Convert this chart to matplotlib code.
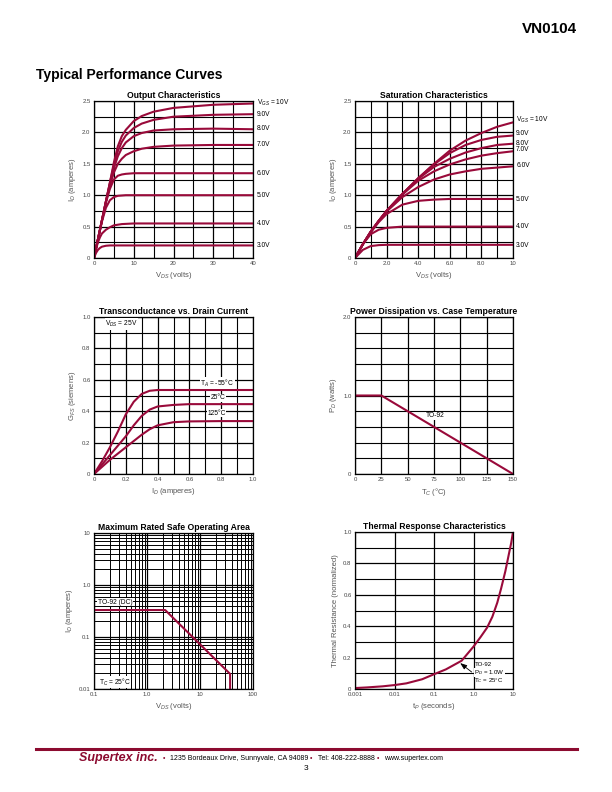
import matplotlib
matplotlib.use('Agg')
import matplotlib.pyplot as plt
from matplotlib.lines import Line2D
from matplotlib.ticker import FixedLocator, MultipleLocator, NullFormatter, NullLocator, LogLocator

plt.rcParams['font.family'] = ['Liberation Sans', 'DejaVu Sans']
plt.rcParams['mathtext.fontset'] = 'custom'
plt.rcParams['mathtext.rm'] = 'Liberation Sans'
plt.rcParams['mathtext.it'] = 'Liberation Sans:italic'
plt.rcParams['mathtext.bf'] = 'Liberation Sans:bold'

RED = '#990a3a'

# ---------------- data ----------------
# Output characteristics (ID vs VDS, 0..40V)
out_labels = ['V$_{GS}$ = 10V', '9.0V', '8.0V', '7.0V', '6.0V', '5.0V', '4.0V', '3.0V']
out_label_y = [2.47, 2.29, 2.06, 1.80, 1.35, 1.00, 0.55, 0.20]
out_x_hi = [0, 1, 2, 3, 4, 5, 6, 7, 8, 10, 12, 15, 20, 30, 40]
out_10v = [0, 0.30, 0.60, 0.90, 1.20, 1.52, 1.78, 1.94, 2.04, 2.18, 2.26, 2.33, 2.39, 2.44, 2.46]
out_9v = [0, 0.30, 0.60, 0.90, 1.20, 1.48, 1.70, 1.85, 1.95, 2.07, 2.14, 2.20, 2.25, 2.28, 2.29]
out_8v = [0, 0.30, 0.60, 0.90, 1.18, 1.43, 1.62, 1.75, 1.84, 1.94, 1.99, 2.03, 2.05, 2.06, 2.05]
out_7v = [0, 0.30, 0.60, 0.90, 1.15, 1.36, 1.50, 1.58, 1.64, 1.70, 1.74, 1.77, 1.79, 1.80, 1.80]
out_6v_x = [0, 1, 2, 3, 4, 5, 6, 7, 8, 10, 15, 20, 30, 40]
out_6v = [0, 0.30, 0.60, 0.88, 1.10, 1.25, 1.31, 1.33, 1.34, 1.35, 1.35, 1.35, 1.35, 1.35]
out_5v_x = [0, 1, 2, 3, 4, 5, 6, 8, 10, 20, 40]
out_5v = [0, 0.30, 0.58, 0.80, 0.92, 0.97, 0.99, 1.0, 1.0, 1.0, 1.0]
out_4v_x = [0, 0.5, 1, 1.5, 2, 3, 4, 5, 7, 10, 20, 40]
out_4v = [0, 0.14, 0.25, 0.33, 0.39, 0.45, 0.49, 0.52, 0.54, 0.55, 0.55, 0.55]
out_3v_x = [0, 0.5, 1, 1.5, 2, 3, 4, 6, 10, 40]
out_3v = [0, 0.08, 0.13, 0.16, 0.18, 0.195, 0.2, 0.2, 0.2, 0.2]

# Saturation characteristics (0..10V)
sat_x = [0, 0.5, 1, 1.5, 2, 3, 4, 5, 6, 7, 8, 9, 10]
sat_10v = [0, 0.22, 0.42, 0.59, 0.75, 1.02, 1.27, 1.50, 1.71, 1.87, 1.99, 2.09, 2.16]
sat_9v = [0, 0.22, 0.42, 0.59, 0.75, 1.02, 1.27, 1.49, 1.67, 1.80, 1.88, 1.93, 1.95]
sat_8v = [0, 0.22, 0.42, 0.59, 0.75, 1.02, 1.26, 1.45, 1.58, 1.68, 1.75, 1.80, 1.82]
sat_7v = [0, 0.22, 0.42, 0.59, 0.75, 1.01, 1.23, 1.38, 1.49, 1.57, 1.63, 1.67, 1.70]
sat_6v = [0, 0.22, 0.42, 0.59, 0.74, 0.97, 1.13, 1.25, 1.33, 1.38, 1.42, 1.44, 1.46]
sat_5v = [0, 0.22, 0.41, 0.57, 0.70, 0.85, 0.91, 0.93, 0.94, 0.94, 0.94, 0.94, 0.94]
sat_4v = [0, 0.22, 0.38, 0.45, 0.48, 0.50, 0.50, 0.50, 0.50, 0.50, 0.50, 0.50, 0.50]
sat_3v = [0, 0.13, 0.19, 0.205, 0.21, 0.21, 0.21, 0.21, 0.21, 0.21, 0.21, 0.21, 0.21]
sat_labels = ['V$_{GS}$ = 10V', '9.0V', '8.0V', '7.0V', '6.0V', '5.0V', '4.0V', '3.0V']
sat_label_y = [2.2, 1.98, 1.83, 1.72, 1.47, 0.93, 0.50, 0.20]

# Transconductance vs drain current
gm_x = [0, 0.05, 0.1, 0.15, 0.2, 0.25, 0.3, 0.35, 0.4, 0.5, 0.6, 0.8, 1.0]
gm_m55 = [0, 0.08, 0.17, 0.27, 0.38, 0.46, 0.51, 0.53, 0.535, 0.535, 0.535, 0.535, 0.535]
gm_25 = [0, 0.06, 0.12, 0.18, 0.24, 0.31, 0.37, 0.41, 0.43, 0.44, 0.445, 0.445, 0.445]
gm_125 = [0, 0.045, 0.09, 0.13, 0.17, 0.21, 0.25, 0.285, 0.31, 0.33, 0.335, 0.337, 0.337]

# Power dissipation vs case temperature
pd_t = [0, 25, 150]
pd_w = [1.0, 1.0, 0.0]

# Safe operating area
soa_v = [0.1, 2.2, 37, 37]
soa_i = [0.33, 0.33, 0.0195, 0.01]

# Thermal response
th_t = [0.001, 0.002, 0.005, 0.01, 0.02, 0.05, 0.1, 0.2, 0.5, 1.0, 1.5, 2.2, 3.0, 4.0, 5.0, 6.4, 7.8, 9.0, 10.0]
th_r = [0.006, 0.01, 0.017, 0.025, 0.036, 0.062, 0.094, 0.125, 0.18, 0.27, 0.33, 0.39, 0.46, 0.55, 0.64, 0.75, 0.855, 0.93, 1.0]

fig = plt.figure(figsize=(6.12, 7.92), dpi=100)


def px_axes(x0, y0, x1, y1):
    return fig.add_axes([x0 / 612, 1 - y1 / 792, (x1 - x0) / 612, (y1 - y0) / 792])


def style(ax, title, xlabel, ylabel):
    ax.set_title(title, fontsize=6.2, fontweight='bold', pad=2.5)
    ax.grid(which='major', color='black', lw=0.9)
    ax.grid(which='minor', color='black', lw=0.8)
    ax.tick_params(which='both', length=0, labelsize=4.3, pad=2.5, colors='#444444')
    for s in ax.spines.values():
        s.set_linewidth(0.9)
    ax.set_axisbelow(True)
    ax.set_xlabel(xlabel, fontsize=5.5, color='#555555', labelpad=2.5)
    ax.set_ylabel(ylabel, fontsize=5.5, color='#555555', labelpad=3)


def lin_ticks(ax, xt, xl, xm, yt, yl, ym):
    ax.xaxis.set_major_locator(FixedLocator(xt))
    ax.set_xticklabels(xl)
    ax.xaxis.set_minor_locator(MultipleLocator(xm))
    ax.yaxis.set_major_locator(FixedLocator(yt))
    ax.set_yticklabels(yl)
    ax.yaxis.set_minor_locator(MultipleLocator(ym))


lw = 1.5
WB = dict(fc='white', ec='none', pad=0.4)
WB2 = dict(fc='white', ec='none', pad=0.15)

# ---- Output characteristics ----
ax1 = px_axes(94, 101, 253, 258)
for xs, ys in [(out_x_hi, out_10v), (out_x_hi, out_9v), (out_x_hi, out_8v), (out_x_hi, out_7v),
               (out_6v_x, out_6v), (out_5v_x, out_5v), (out_4v_x, out_4v), (out_3v_x, out_3v)]:
    ax1.plot(xs, ys, color=RED, lw=lw, solid_capstyle='round')
ax1.set_xlim(0, 40)
ax1.set_ylim(0, 2.5)
lin_ticks(ax1, [0, 10, 20, 30, 40], ['0', '10', '20', '30', '40'], 5,
          [0, 0.5, 1.0, 1.5, 2.0, 2.5], ['0', '0.5', '1.0', '1.5', '2.0', '2.5'], 0.25)
style(ax1, 'Output Characteristics', 'V$_{DS}$ (volts)', 'I$_D$ (amperes)')
for lab, yv in zip(out_labels, out_label_y):
    ax1.text(41, yv, lab, fontsize=4.8, va='center', ha='left', clip_on=False)

# ---- Saturation characteristics ----
ax2 = px_axes(355, 101, 513, 258)
for ys in [sat_10v, sat_9v, sat_8v, sat_7v, sat_6v, sat_5v, sat_4v, sat_3v]:
    ax2.plot(sat_x, ys, color=RED, lw=lw)
ax2.set_xlim(0, 10)
ax2.set_ylim(0, 2.5)
lin_ticks(ax2, [0, 2, 4, 6, 8, 10], ['0', '2.0', '4.0', '6.0', '8.0', '10'], 1,
          [0, 0.5, 1.0, 1.5, 2.0, 2.5], ['0', '0.5', '1.0', '1.5', '2.0', '2.5'], 0.25)
style(ax2, 'Saturation Characteristics', 'V$_{DS}$ (volts)', 'I$_D$ (amperes)')
for lab, yv in zip(sat_labels, sat_label_y):
    ax2.text(10.2, yv, lab, fontsize=4.8, va='center', ha='left', clip_on=False)

# ---- Transconductance ----
ax3 = px_axes(94, 317, 253, 474)
for ys in [gm_m55, gm_25, gm_125]:
    ax3.plot(gm_x, ys, color=RED, lw=lw)
ax3.set_xlim(0, 1)
ax3.set_ylim(0, 1)
lin_ticks(ax3, [0, 0.2, 0.4, 0.6, 0.8, 1.0], ['0', '0.2', '0.4', '0.6', '0.8', '1.0'], 0.1,
          [0, 0.2, 0.4, 0.6, 0.8, 1.0], ['0', '0.2', '0.4', '0.6', '0.8', '1.0'], 0.1)
style(ax3, 'Transconductance vs. Drain Current', 'I$_D$ (amperes)', 'G$_{FS}$ (siemens)')
ax3.text(0.07, 0.955, 'V$_{DS}$ = 25V', fontsize=4.8, va='center', ha='left', bbox=WB)
ax3.text(0.775, 0.578, 'T$_A$ = -55°C', fontsize=4.8, va='center', ha='center', bbox=WB)
ax3.text(0.78, 0.487, '25°C', fontsize=4.8, va='center', ha='center', bbox=WB)
ax3.text(0.77, 0.386, '125°C', fontsize=4.8, va='center', ha='center', bbox=WB)

# ---- Power dissipation ----
ax4 = px_axes(355, 317, 513, 474)
ax4.plot(pd_t, pd_w, color=RED, lw=lw)
ax4.set_xlim(0, 150)
ax4.set_ylim(0, 2.0)
lin_ticks(ax4, [0, 25, 50, 75, 100, 125, 150], ['0', '25', '50', '75', '100', '125', '150'], 25,
          [0, 1.0, 2.0], ['0', '1.0', '2.0'], 0.2)
style(ax4, 'Power Dissipation vs. Case Temperature', 'T$_C$ (°C)', 'P$_D$ (watts)')
ax4.text(76, 0.74, 'TO-92', fontsize=4.8, va='center', ha='center', bbox=WB)

# ---- SOA ----
ax5 = px_axes(94, 533, 253, 689)
ax5.plot(soa_v, soa_i, color=RED, lw=lw)
ax5.set_xscale('log')
ax5.set_yscale('log')
ax5.set_xlim(0.1, 100)
ax5.set_ylim(0.01, 10)
ax5.xaxis.set_major_locator(FixedLocator([0.1, 1, 10, 100]))
ax5.set_xticklabels(['0.1', '1.0', '10', '100'])
ax5.xaxis.set_minor_locator(LogLocator(base=10, subs=[2, 3, 4, 5, 6, 7, 8, 9], numticks=20))
ax5.xaxis.set_minor_formatter(NullFormatter())
ax5.yaxis.set_major_locator(FixedLocator([0.01, 0.1, 1, 10]))
ax5.set_yticklabels(['0.01', '0.1', '1.0', '10'])
ax5.yaxis.set_minor_locator(LogLocator(base=10, subs=[2, 3, 4, 5, 6, 7, 8, 9], numticks=20))
ax5.yaxis.set_minor_formatter(NullFormatter())
style(ax5, 'Maximum Rated Safe Operating Area', 'V$_{DS}$ (volts)', 'I$_D$ (amperes)')
ax5.grid(which='minor', color='black', lw=0.7)
ax5.text(0.118, 0.47, 'TO-92 (DC)', fontsize=4.8, va='center', ha='left', bbox=WB)
ax5.text(0.125, 0.0135, 'T$_C$ = 25°C', fontsize=4.8, va='center', ha='left', bbox=WB)

# ---- Thermal response ----
ax6 = px_axes(355, 532, 513, 689)
ax6.plot(th_t, th_r, color=RED, lw=lw)
ax6.set_xscale('log')
ax6.set_xlim(0.001, 10)
ax6.set_ylim(0, 1.0)
ax6.xaxis.set_major_locator(FixedLocator([0.001, 0.01, 0.1, 1, 10]))
ax6.set_xticklabels(['0.001', '0.01', '0.1', '1.0', '10'])
ax6.xaxis.set_minor_locator(NullLocator())
ax6.yaxis.set_major_locator(FixedLocator([0, 0.2, 0.4, 0.6, 0.8, 1.0]))
ax6.set_yticklabels(['0', '0.2', '0.4', '0.6', '0.8', '1.0'])
ax6.yaxis.set_minor_locator(MultipleLocator(0.1))
style(ax6, 'Thermal Response Characteristics', 't$_P$ (seconds)', 'Thermal Resistance (normalized)')
ax6.annotate('', xy=(0.46, 0.165), xytext=(0.9, 0.108),
             arrowprops=dict(arrowstyle='-|>,head_length=0.4,head_width=0.15', color='black',
                             lw=0.6, shrinkA=0, shrinkB=0))
ax6.text(1.05, 0.156, 'TO-92', fontsize=4.4, va='center', ha='left')
ax6.text(1.05, 0.106, 'P$_D$ = 1.0W', fontsize=4.4, va='center', ha='left', bbox=WB2)
ax6.text(1.05, 0.056, 'T$_C$ = 25°C', fontsize=4.4, va='center', ha='left')

# ---- page text ----
def ftxt(x, y, s, **kw):
    fig.text(x / 612, 1 - y / 792, s, **kw)

ftxt(577, 29, 'VN0104', fontsize=11, fontweight='bold', ha='right', va='center')
ftxt(36, 75, 'Typical Performance Curves', fontsize=10, fontweight='bold', ha='left', va='center')
fig.add_artist(Line2D([36 / 612, 577 / 612], [1 - 749 / 792, 1 - 749 / 792],
                      transform=fig.transFigure, color='#8c0b30', lw=2.2))
ftxt(79, 758, 'Supertex inc.', fontsize=9, fontweight='bold', style='italic', color='#8c0b30',
     ha='left', va='center')
ftxt(163, 758.5, '•', fontsize=5, color='#8c0b30', ha='left', va='center')
ftxt(170, 758, '1235 Bordeaux Drive, Sunnyvale, CA 94089', fontsize=5.0, ha='left', va='center')
ftxt(310, 758.5, '•', fontsize=5, color='#8c0b30', ha='left', va='center')
ftxt(318, 758, 'Tel: 408-222-8888', fontsize=5.0, ha='left', va='center')
ftxt(377, 758.5, '•', fontsize=5, color='#8c0b30', ha='left', va='center')
ftxt(384, 758, 'www.supertex.com', fontsize=5.0, ha='left', va='center')
ftxt(306, 769, '3', fontsize=6, ha='center', va='center')

fig.savefig('out.png', dpi=100)
